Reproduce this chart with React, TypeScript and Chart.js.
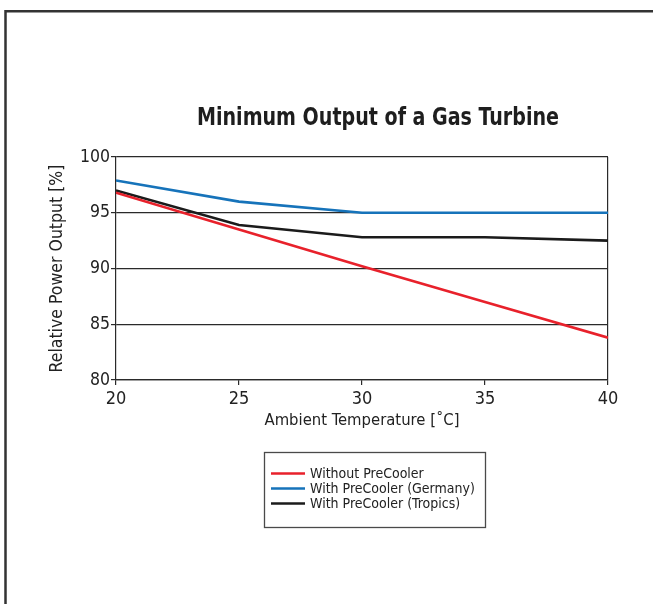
import React, { useEffect, useRef } from 'react';
import { Chart, registerables } from 'chart.js';

Chart.register(...registerables);

const temperatures = [20, 25, 30, 35, 40];
const withoutPreCooler = [96.8, 93.5, 90.2, 87.0, 83.8];
const withPreCoolerGermany = [97.9, 96.0, 95.0, 95.0, 95.0];
const withPreCoolerTropics = [97.0, 93.9, 92.8, 92.8, 92.5];
const seriesLabels = ['Without PreCooler', 'With PreCooler (Germany)', 'With PreCooler (Tropics)'];
const seriesColors = ['#e8212b', '#1673ba', '#1b1b1b'];
const titleText = 'Minimum Output of a Gas Turbine';
const xTitle = 'Ambient Temperature [˚C]';
const yTitle = 'Relative Power Output [%]';

const FONT = "'DejaVu Sans Condensed', 'Liberation Sans Narrow', sans-serif";
const TEXT = '#222222';

const decor = {
  id: 'decor',
  beforeDraw(chart: any) {
    const ctx = chart.ctx;
    ctx.save();
    ctx.fillStyle = '#ffffff';
    ctx.fillRect(0, 0, chart.width, chart.height);
    ctx.strokeStyle = '#333333';
    ctx.lineWidth = 2.5;
    ctx.beginPath();
    ctx.moveTo(5.5, chart.height);
    ctx.lineTo(5.5, 11.3);
    ctx.lineTo(chart.width, 11.3);
    ctx.stroke();
    ctx.restore();
  },
  afterDraw(chart: any) {
    const ctx = chart.ctx;
    ctx.save();
    // title (horizontally condensed)
    ctx.fillStyle = '#1e1e1e';
    ctx.font = `bold 25px ${FONT}`;
    ctx.textAlign = 'center';
    ctx.textBaseline = 'middle';
    const w = ctx.measureText(titleText).width;
    const sx = 362 / w;
    ctx.translate(378, 118);
    ctx.scale(sx, 1);
    ctx.fillText(titleText, 0, 0);
    ctx.setTransform(1, 0, 0, 1, 0, 0);
    // legend
    const bx = 264.5, by = 452.5, bw = 221, bh = 75;
    ctx.strokeStyle = '#4a4a4a';
    ctx.lineWidth = 1.3;
    ctx.strokeRect(bx, by, bw, bh);
    ctx.font = `14px ${FONT}`;
    ctx.textAlign = 'left';
    chart.data.datasets.forEach((ds: any, i: number) => {
      const y = 473.5 + i * 15;
      ctx.strokeStyle = ds.borderColor;
      ctx.lineWidth = 2.5;
      ctx.beginPath();
      ctx.moveTo(271, y);
      ctx.lineTo(305, y);
      ctx.stroke();
      ctx.fillStyle = TEXT;
      ctx.fillText(ds.label, 310, y + 0.5);
    });
    ctx.restore();
  },
};

export default function App() {
  const ref = useRef<HTMLCanvasElement>(null);
  useEffect(() => {
    if (!ref.current) return;
    const series = [withoutPreCooler, withPreCoolerGermany, withPreCoolerTropics];
    const chart = new Chart(ref.current, {
      type: 'line',
      data: {
        datasets: series.map((vals, i) => ({
          label: seriesLabels[i],
          data: temperatures.map((t, j) => ({ x: t, y: vals[j] })),
          borderColor: seriesColors[i],
          backgroundColor: seriesColors[i],
          borderWidth: 2.6,
          pointRadius: 0,
          tension: 0,
          fill: false,
        })),
      },
      options: {
        responsive: false,
        animation: false,
        devicePixelRatio: 1,
        layout: { padding: { top: 157, right: 45, bottom: 164, left: 0 } },
        plugins: {
          legend: { display: false },
          title: { display: false },
          tooltip: { enabled: false },
        },
        scales: {
          x: {
            type: 'linear',
            min: 20,
            max: 40,
            afterFit: (s: any) => { s.height = 60; },
            ticks: { stepSize: 5, color: TEXT, padding: 4, font: { family: FONT, size: 18 } },
            grid: {
              drawOnChartArea: true,
              color: (c: any) => (c.tick && c.tick.value === 40 ? '#2a2a2a' : 'rgba(0,0,0,0)'),
              tickColor: '#2a2a2a',
              tickLength: 5,
              lineWidth: 1.2,
            },
            border: { color: '#2a2a2a', width: 1.2 },
            title: { display: true, text: xTitle, color: TEXT, padding: { top: 0, bottom: 9.6 }, font: { family: FONT, size: 16.5 } },
          },
          y: {
            min: 80,
            max: 100,
            afterFit: (s: any) => { s.width = 116; },
            ticks: { stepSize: 5, color: TEXT, padding: 1, font: { family: FONT, size: 17.5 } },
            grid: { color: '#2a2a2a', tickColor: '#2a2a2a', tickLength: 5, lineWidth: 1.2 },
            border: { color: '#2a2a2a', width: 1.2 },
            title: { display: true, text: yTitle, color: TEXT, padding: { top: 46.5, bottom: 0 }, font: { family: FONT, size: 17.5 } },
          },
        },
      },
      plugins: [decor],
    });
    return () => chart.destroy();
  }, []);
  return (
    <div style={{ position: 'absolute', left: 0, top: 0, width: 653, height: 604 }}>
      <canvas ref={ref} width={653} height={604} />
    </div>
  );
}
